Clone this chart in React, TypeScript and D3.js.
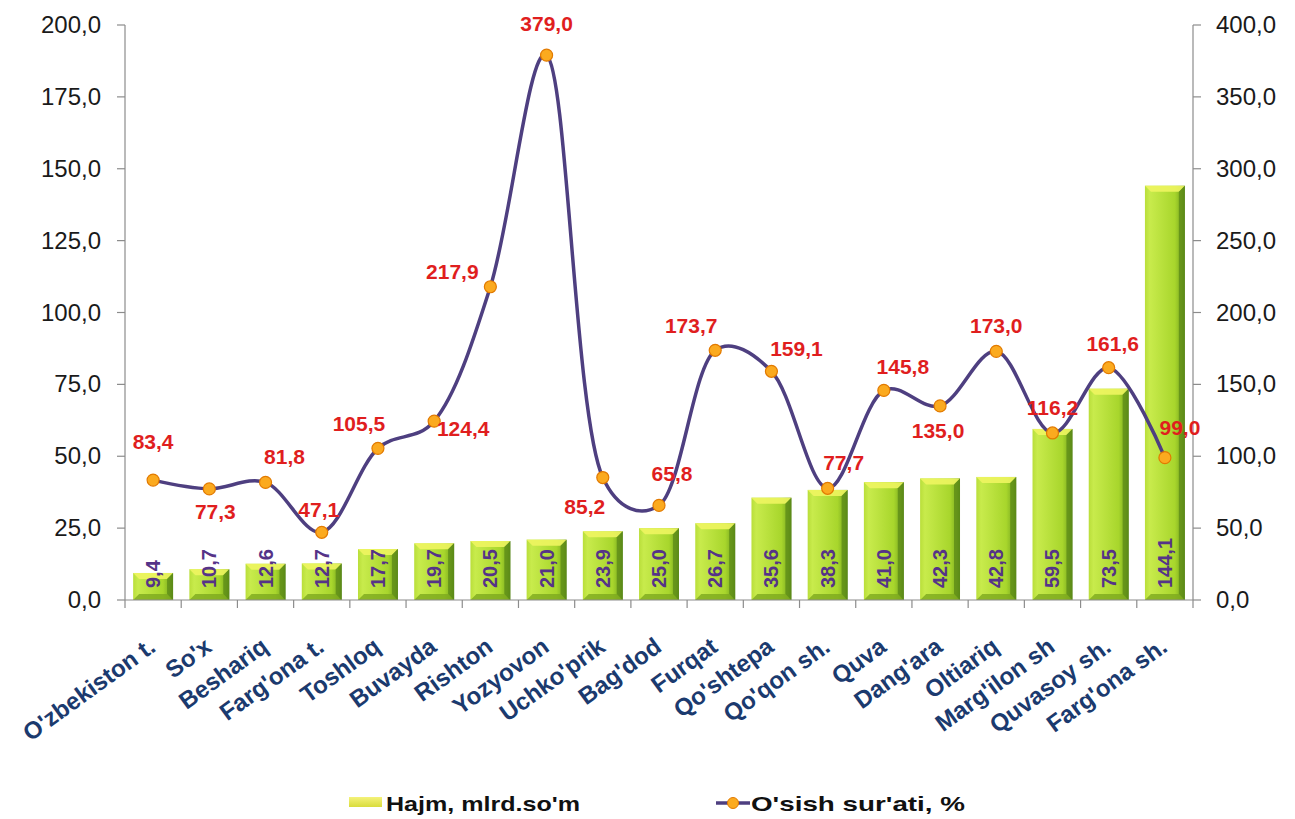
import React from "react";
import * as d3 from "d3";

const categories = [
  "O'zbekiston t.", "So'x", "Beshariq", "Farg'ona t.", "Toshloq", "Buvayda", "Rishton",
  "Yozyovon", "Uchko'prik", "Bag'dod", "Furqat", "Qo'shtepa", "Qo'qon sh.", "Quva",
  "Dang'ara", "Oltiariq", "Marg'ilon sh", "Quvasoy sh.", "Farg'ona sh.",
];
const hajm = [9.4, 10.7, 12.6, 12.7, 17.7, 19.7, 20.5, 21.0, 23.9, 25.0, 26.7, 35.6, 38.3, 41.0, 42.3, 42.8, 59.5, 73.5, 144.1];
const osish = [83.4, 77.3, 81.8, 47.1, 105.5, 124.4, 217.9, 379.0, 85.2, 65.8, 173.7, 159.1, 77.7, 145.8, 135.0, 173.0, 116.2, 161.6, 99.0];
// label offsets (dx, dy) relative to the marker, per point
const labelOffsets: [number, number][] = [
  [0, -31], [6, 30], [19, -18], [-3, -15], [-19, -17], [29, 15], [-38, -8], [0, -24], [-18, 36], [13, -24],
  [-24, -17], [25, -15], [16, -18], [19, -16], [-2, 32], [0, -18], [0, -18], [4, -17], [15, -23],
];
const leftTicks = [0, 25, 50, 75, 100, 125, 150, 175, 200];
const rightTicks = [0, 50, 100, 150, 200, 250, 300, 350, 400];
const legendNames = ["Hajm, mlrd.so'm", "O'sish sur'ati, %"];

const fmt = (v: number) => d3.format(".1f")(v).replace(".", ",");
const FONT = "Arial, 'Liberation Sans', sans-serif";

export default function App() {
  const W = 1295, H = 819;
  const left = 125, right = 1193, top = 25, bottom = 600;
  const x = d3.scaleBand().domain(categories).range([left, right]).paddingInner(0.29).paddingOuter(0.145);
  const xc = (c: string) => (x(c) as number) + x.bandwidth() / 2;
  const step = (right - left) / categories.length;
  const yL = d3.scaleLinear().domain([0, 200]).range([bottom, top]);
  const yR = d3.scaleLinear().domain([0, 400]).range([bottom, top]);
  const pts: [number, number][] = categories.map((c, i) => [xc(c), yR(osish[i])]);
  const line = d3.line().curve(d3.curveCatmullRom.alpha(0.3))(pts) as string;
  const bw = x.bandwidth();

  return (
    <svg width={W} height={H} style={{ position: "absolute", left: 0, top: 0, background: "#fff" }}>
      <defs>
        <linearGradient id="barG" x1="0" x2="1" y1="0" y2="0">
          <stop offset="0" stopColor="#B9DE3A" />
          <stop offset="0.12" stopColor="#C8EB4C" />
          <stop offset="0.75" stopColor="#A8D62C" />
          <stop offset="0.92" stopColor="#7FAF22" />
          <stop offset="1" stopColor="#4F7E16" />
        </linearGradient>
        <linearGradient id="legG" x1="0" x2="0" y1="0" y2="1">
          <stop offset="0" stopColor="#F4F27A" />
          <stop offset="1" stopColor="#D9DC3C" />
        </linearGradient>
      </defs>
      {/* bars */}
      {categories.map((c, i) => {
        const x0 = x(c) as number;
        const y0 = yL(hajm[i]);
        const h = bottom - y0;
        const bev = Math.min(6, h / 3);
        return (
          <g key={c}>
            <rect x={x0} y={y0} width={bw} height={h} fill="url(#barG)" />
            <polygon
              points={`${x0},${y0} ${x0 + bw},${y0} ${x0 + bw - bev},${y0 + bev} ${x0 + bev},${y0 + bev}`}
              fill="#EEF560"
              opacity={0.9}
            />
            <polygon
              points={`${x0 + bev},${bottom - bev} ${x0 + bw - bev},${bottom - bev} ${x0 + bw},${bottom} ${x0},${bottom}`}
              fill="#7DA91E"
              opacity={0.8}
            />
            <polygon
              points={`${x0 + bw - bev},${y0 + bev} ${x0 + bw},${y0} ${x0 + bw},${bottom} ${x0 + bw - bev},${bottom - bev}`}
              fill="#5E8C18"
              opacity={0.8}
            />
          </g>
        );
      })}
      {/* bar labels */}
      {categories.map((c, i) => (
        <text
          key={"bl" + c}
          transform={`translate(${xc(c) + 7},${bottom - 12}) rotate(-90)`}
          fontFamily={FONT}
          fontWeight="bold"
          fontSize={20}
          fill="#553388"
        >
          {fmt(hajm[i])}
        </text>
      ))}
      {/* axes */}
      <g stroke="#8C8C8C" strokeWidth={1.2}>
        <line x1={left} x2={left} y1={top} y2={bottom} />
        <line x1={right} x2={right} y1={top} y2={bottom} />
        <line x1={left} x2={right} y1={bottom} y2={bottom} />
        {leftTicks.map((t) => (
          <line key={"lt" + t} x1={left - 8} x2={left} y1={yL(t)} y2={yL(t)} />
        ))}
        {rightTicks.map((t) => (
          <line key={"rt" + t} x1={right} x2={right + 8} y1={yR(t)} y2={yR(t)} />
        ))}
        {d3.range(categories.length + 1).map((k) => (
          <line key={"xt" + k} x1={left + k * step} x2={left + k * step} y1={bottom} y2={bottom + 8} />
        ))}
      </g>
      {leftTicks.map((t) => (
        <text key={"ltl" + t} x={101} y={yL(t) + 8} textAnchor="end" fontFamily={FONT} fontSize={24} fill="#1a1a1a">
          {fmt(t)}
        </text>
      ))}
      {rightTicks.map((t) => (
        <text key={"rtl" + t} x={1216} y={yR(t) + 8} textAnchor="start" fontFamily={FONT} fontSize={24} fill="#1a1a1a">
          {fmt(t)}
        </text>
      ))}
      {/* category labels */}
      {categories.map((c) => (
        <text
          key={"cl" + c}
          transform={`translate(${xc(c) + 4},${bottom + 50}) rotate(-36)`}
          textAnchor="end"
          fontFamily={FONT}
          fontWeight="bold"
          fontSize={24}
          fill="#1B3A6E"
        >
          {c}
        </text>
      ))}
      {/* line */}
      <path d={line} fill="none" stroke="#4E3F80" strokeWidth={3.5} />
      {pts.map((p, i) => (
        <circle key={"pt" + i} cx={p[0]} cy={p[1]} r={6} fill="#FBAA1F" stroke="#E27A00" strokeWidth={1.2} />
      ))}
      {pts.map((p, i) => {
        const o = labelOffsets[i];
        return (
          <text
            key={"pl" + i}
            x={p[0] + o[0]}
            y={p[1] + o[1]}
            textAnchor="middle"
            fontFamily={FONT}
            fontWeight="bold"
            fontSize={21}
            fill="#E01E1E"
          >
            {fmt(osish[i])}
          </text>
        );
      })}
      {/* legend */}
      <rect x={349} y={797} width={33} height={10} fill="url(#legG)" />
      <text x={386} y={811} fontFamily={FONT} fontWeight="bold" fontSize={21} fill="#111" textLength={194} lengthAdjust="spacingAndGlyphs">
        {legendNames[0]}
      </text>
      <line x1={716} x2={750} y1={803} y2={803} stroke="#4E3F80" strokeWidth={3.5} />
      <circle cx={733} cy={803} r={5.5} fill="#FBAA1F" stroke="#E27A00" strokeWidth={1} />
      <text x={751} y={811} fontFamily={FONT} fontWeight="bold" fontSize={21} fill="#111" textLength={214} lengthAdjust="spacingAndGlyphs">
        {legendNames[1]}
      </text>
    </svg>
  );
}
